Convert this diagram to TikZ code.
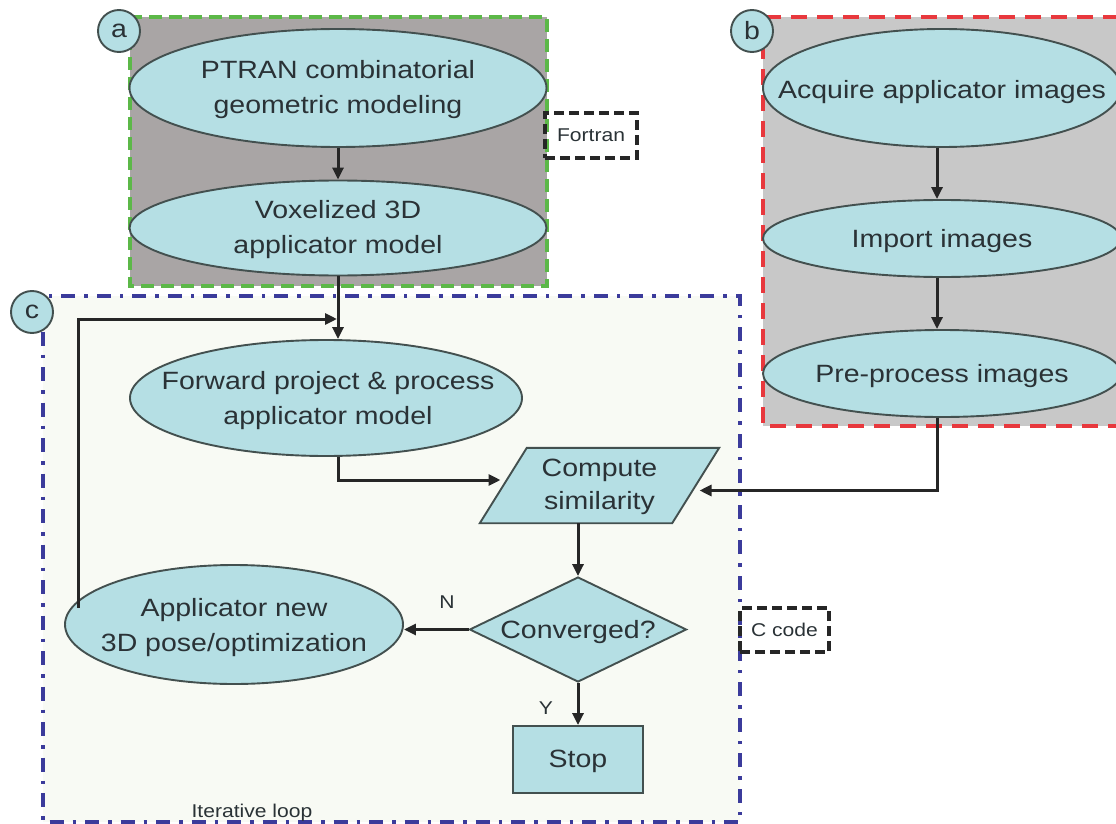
\documentclass[tikz,border=0pt]{standalone}
\usepackage{fontspec}
\setmainfont{Liberation Sans}[FakeStretch=1.14]
\usetikzlibrary{shapes.geometric,arrows.meta,calc}
\definecolor{ellfill}{HTML}{B5DFE4}
\definecolor{edgec}{HTML}{43504F}
\definecolor{txtc}{HTML}{2A3236}
\definecolor{linec}{HTML}{262626}
\definecolor{grayA}{HTML}{A9A5A5}
\definecolor{grayB}{HTML}{C8C8C8}
\definecolor{paleC}{HTML}{F8FAF4}
\definecolor{greenD}{HTML}{5CB848}
\definecolor{redD}{HTML}{E8383D}
\definecolor{blueD}{HTML}{3B3B9B}
\tikzset{
  proc/.style={ellipse, draw=edgec, line width=1.9pt, fill=ellfill, inner sep=0pt},
  flat/.style={draw=edgec, line width=1.9pt, fill=ellfill},
  txt/.style={text=txtc, align=center, font=\fontsize{25}{35}\selectfont, inner sep=0pt},
  smalltxt/.style={text=txtc, font=\fontsize{18.5}{22}\selectfont, inner sep=0pt},
  tag/.style={circle, draw=edgec, line width=1.9pt, fill=ellfill, minimum size=42pt, inner sep=0pt, text=txtc, font=\fontsize{25}{30}\selectfont},
  arr/.style={draw=linec, line width=3pt, -{Triangle[length=12pt,width=11pt]}},
  codebox/.style={draw=black!85, line width=3.2pt, dash pattern=on 10pt off 5pt, inner sep=0pt, text=txtc, font=\fontsize{18.5}{22}\selectfont},
}
\begin{document}
\begin{tikzpicture}[x=1pt,y=-1pt]
\useasboundingbox (0,0) rectangle (1116,824);
\clip (0,0) rectangle (1116,824);
% containers
\fill[paleC] (43,296) rectangle (740,822);
\draw[blueD, line width=3.4pt, dash pattern=on 14pt off 9pt on 3.5pt off 9pt] (43,296) rectangle (740,822);
\fill[grayA] (130,17) rectangle (547,286);
\draw[greenD, line width=3.2pt, dash pattern=on 13pt off 7pt] (130,17) rectangle (547,286);
\fill[grayB] (763,17) rectangle (1130,426);
\draw[redD, line width=3.4pt, dash pattern=on 16pt off 10pt] (763,17) rectangle (1130,426);
% tags
\node[tag] (ta) at (119,31) {a};
\node[tag] (tb) at (752,31) {b};
\node[tag] (tc) at (32,312) {c};
% code boxes
\node[codebox, minimum width=92pt, minimum height=45pt] (fortran) at (591,135.5) {Fortran};
\node[codebox, minimum width=89pt, minimum height=44pt] (ccode) at (784.5,630) {C code};
% ellipses
\node[proc, minimum width=417pt, minimum height=118pt] (ptran) at (338,88) {};
\node[txt] at ($(ptran.center)+(0,2)$) {PTRAN combinatorial\\geometric modeling};
\node[proc, minimum width=417pt, minimum height=95pt] (vox) at (338,228) {};
\node[txt] at ($(vox.center)+(0,2)$) {Voxelized 3D\\applicator model};
\node[proc, minimum width=358pt, minimum height=118pt] (acq) at (942,88) {};
\node[txt] at ($(acq.center)+(0,4)$) {Acquire applicator images};
\node[proc, minimum width=358pt, minimum height=77pt] (imp) at (942,238.5) {};
\node[txt] at ($(imp.center)+(0,3)$) {Import images};
\node[proc, minimum width=358pt, minimum height=87pt] (pre) at (942,373.5) {};
\node[txt] at ($(pre.center)+(0,3)$) {Pre-process images};
\node[proc, minimum width=392pt, minimum height=116pt] (fwd) at (326,398) {};
\node[txt] at ($(fwd.center)+(2,3)$) {Forward project \& process\\applicator model};
\node[proc, minimum width=338pt, minimum height=119pt] (app) at (234,624.5) {};
\node[txt] at ($(app.center)+(0,3)$) {Applicator new\\3D pose/optimization};
% parallelogram
\node[minimum width=239pt, minimum height=75pt, inner sep=0pt] (cs) at (599.5,485.5) {};
\draw[flat] ($(cs.north west)+(47,0)$) -- (cs.north east) -- ($(cs.south east)+(-47,0)$) -- (cs.south west) -- cycle;
\node[txt, font=\fontsize{25}{33}\selectfont] at ($(cs.center)+(0,1)$) {Compute\\similarity};
% diamond
\node[diamond, draw=edgec, line width=1.9pt, fill=ellfill, inner sep=0pt, minimum width=217pt, minimum height=105pt] (conv) at (578,629.5) {};
\node[txt] at ($(conv.center)+(0,3)$) {Converged?};
% stop
\node[draw=edgec, line width=1.9pt, fill=ellfill, minimum width=130pt, minimum height=67pt, inner sep=0pt] (stop) at (578,759.5) {};
\node[txt] at ($(stop.center)+(0,2)$) {Stop};
% labels
\node[smalltxt] (nlab) at (447,602) {N};
\node[smalltxt] (ylab) at (546,708) {Y};
\node[smalltxt, anchor=base] (iter) at (252,817) {Iterative loop};
% helper coordinates
\coordinate (bx) at (937,0);
\coordinate (csL) at ($(cs.center)+(-99,-5.5)$);
\coordinate (csR) at ($(cs.center)+(100,5)$);
\coordinate (fbs) at ($(app.center)+(-156,-17)$);
\coordinate (fbe) at (337,319);
% connectors
\draw[arr] (ptran.south) -- (vox.north);
\draw[arr] (vox.south) -- (vox.south |- fwd.north);
\draw[arr] (fbs) |- (fbe);
\draw[arr] (vox.south |- fwd.south) |- (csL);
\draw[arr] (acq.south -| bx) -- (imp.north -| bx);
\draw[arr] (imp.south -| bx) -- (pre.north -| bx);
\draw[arr] (pre.south -| bx) |- (csR);
\draw[arr] (conv.north |- cs.south) -- (conv.north);
\draw[arr] (conv.west) -- (conv.west -| app.east);
\draw[arr] (conv.south) -- (stop.north);
\end{tikzpicture}
\end{document}
